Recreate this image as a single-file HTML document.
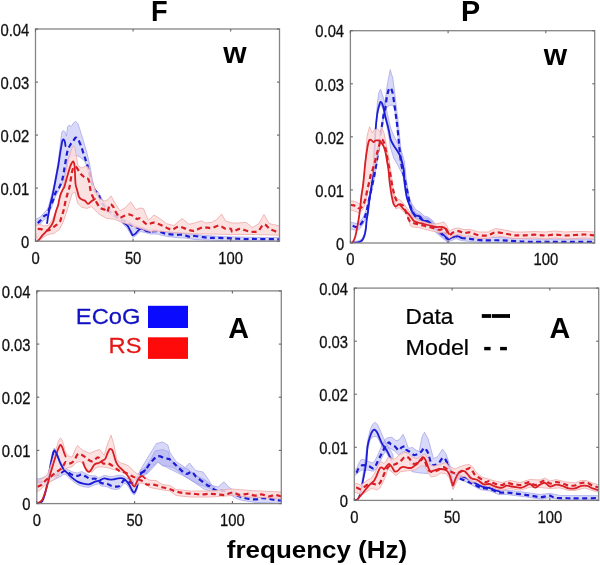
<!DOCTYPE html>
<html><head><meta charset="utf-8"><style>
html,body{margin:0;padding:0;background:#fff;width:600px;height:565px;overflow:hidden}
svg{display:block;will-change:transform}
.t{font-family:"Liberation Sans",sans-serif;font-size:17px;fill:#111;stroke:#111;stroke-width:0.3px}
.b{font-family:"Liberation Sans",sans-serif;font-weight:bold;fill:#000}
.r{font-family:"Liberation Sans",sans-serif;stroke:currentColor;stroke-width:0.25px}
</style></head><body>
<svg width="600" height="565" viewBox="0 0 600 565">
<clipPath id="c0"><rect x="35.5" y="29.0" width="244.0" height="212.2"/></clipPath>
<clipPath id="c1"><rect x="350.4" y="30.7" width="244.3" height="212.3"/></clipPath>
<clipPath id="c2"><rect x="36.8" y="290.9" width="244.5" height="212.7"/></clipPath>
<clipPath id="c3"><rect x="354.3" y="288.1" width="244.4" height="212.3"/></clipPath>
<g clip-path="url(#c0)">
<path d="M35.5,219.5 L40.4,217.0 L43.7,213.0 L46.0,211.0 L48.0,208.0 L50.0,201.0 L52.0,193.0 L54.0,185.0 L56.0,174.0 L58.4,160.0 L60.5,142.0 L61.9,131.8 L63.3,130.5 L65.0,131.8 L66.4,136.2 L67.7,126.5 L69.0,125.2 L71.2,126.5 L73.5,123.0 L75.7,121.2 L77.9,123.8 L80.1,130.0 L83.6,141.5 L87.2,153.9 L89.8,165.0 L92.7,182.0 L95.0,189.0 L99.0,193.0 L102.0,199.0 L106.0,205.0 L112.0,211.0 L120.0,216.0 L128.0,221.0 L135.0,225.0 L142.0,227.0 L146.0,228.5 L150.0,229.5 L157.0,229.5 L165.0,232.0 L175.0,233.0 L185.0,233.5 L195.0,234.5 L205.0,235.5 L220.0,236.5 L240.0,237.0 L260.0,237.5 L280.0,237.5 L280.0,241.0 L260.0,241.0 L240.0,241.0 L220.0,240.5 L205.0,240.0 L195.0,239.5 L185.0,238.0 L175.0,237.5 L165.0,236.0 L157.0,234.0 L150.0,234.0 L145.0,232.5 L140.2,231.5 L136.0,235.5 L132.8,237.5 L127.0,228.0 L120.0,221.0 L112.0,216.0 L105.0,210.0 L101.0,204.0 L98.0,197.0 L94.0,192.0 L91.0,182.0 L89.0,175.0 L87.0,168.0 L85.5,163.0 L84.0,160.0 L82.0,159.0 L80.0,157.0 L78.0,156.0 L76.0,156.0 L73.0,156.0 L70.0,156.0 L67.5,160.0 L65.5,172.0 L64.0,178.0 L62.0,184.0 L59.4,189.0 L57.8,192.5 L55.2,197.0 L53.6,202.0 L51.1,208.5 L49.1,212.5 L47.8,217.0 L45.8,218.5 L43.7,220.0 L40.4,224.0 L35.5,226.5 Z" fill="#a3a3ef" fill-opacity="0.42" stroke="#9898e6" stroke-opacity="0.8" stroke-width="0.8"/>
<path d="M47.1,223.2 C47.3,222.1 47.6,219.2 48.1,216.4 C48.6,213.6 49.2,209.7 49.9,206.2 C50.6,202.7 51.7,199.1 52.5,195.6 C53.3,192.1 53.9,188.4 54.6,185.0 C55.3,181.6 55.9,178.3 56.5,175.0 C57.1,171.7 57.7,169.1 58.4,165.0 C59.1,160.9 59.9,154.5 60.6,150.4 C61.3,146.3 61.9,142.5 62.4,140.7 C62.9,138.9 63.3,139.3 63.7,139.5 C64.1,139.7 64.6,140.9 64.9,142.0 C65.2,143.1 65.4,145.3 65.5,146.0" fill="none" stroke="#1c1cd6" stroke-width="1.8" stroke-linejoin="round" stroke-linecap="round"/>
<path d="M124.0,223.0 C124.6,223.4 126.4,224.4 127.5,225.7 C128.6,227.0 129.6,229.4 130.5,231.0 C131.4,232.6 131.9,234.8 132.8,235.2 C133.7,235.5 134.8,234.2 136.0,233.1 C137.2,232.0 138.7,229.3 140.2,228.8 C141.7,228.3 143.4,229.4 145.0,229.9 C146.6,230.4 149.2,231.7 150.0,232.0" fill="none" stroke="#1c1cd6" stroke-width="1.8" stroke-linejoin="round" stroke-linecap="round"/>
<path d="M37.7,223.2 C38.2,222.8 39.4,221.6 40.4,220.5 C41.4,219.4 42.8,217.3 43.7,216.4 C44.6,215.5 45.1,215.6 45.8,215.1 C46.5,214.6 47.2,214.7 47.8,213.7 C48.3,212.7 48.5,210.4 49.1,209.0 C49.7,207.6 50.4,206.7 51.1,205.0 C51.9,203.3 52.9,200.7 53.6,198.8 C54.3,196.9 54.6,195.1 55.2,193.5 C55.9,191.9 56.8,190.6 57.5,189.5 C58.2,188.4 58.7,188.6 59.5,187.0 C60.3,185.4 61.5,182.5 62.2,180.0 C62.9,177.5 63.2,175.0 63.8,172.0 C64.3,169.0 64.9,165.5 65.5,162.0 C66.1,158.5 66.7,153.9 67.5,151.0 C68.3,148.1 69.6,146.1 70.5,144.5 C71.4,142.9 72.1,142.7 73.0,141.5 C73.9,140.3 74.8,137.9 75.7,137.6 C76.6,137.3 77.4,138.4 78.3,139.8 C79.2,141.2 80.1,143.7 81.0,146.0 C81.9,148.3 82.9,151.7 83.6,153.9 C84.3,156.1 84.8,157.4 85.4,159.2 C86.0,161.0 86.6,162.5 87.2,164.6 C87.8,166.7 88.4,169.4 89.0,172.0 C89.6,174.6 90.3,177.6 91.0,180.0 C91.7,182.4 92.2,184.7 93.0,186.5 C93.8,188.3 94.5,189.6 95.5,191.0 C96.5,192.4 97.9,193.3 98.8,195.0 C99.7,196.7 100.0,199.0 101.0,201.0 C102.0,203.0 103.2,204.9 105.0,207.0 C106.8,209.1 109.5,211.5 112.0,213.5 C114.5,215.5 117.3,217.4 120.0,219.0 C122.7,220.6 125.5,221.7 128.0,223.0 C130.5,224.3 132.4,225.9 135.0,227.0 C137.6,228.1 141.3,228.9 143.5,229.6 C145.7,230.3 145.9,231.0 148.2,231.3 C150.5,231.6 154.6,230.9 157.5,231.3 C160.4,231.7 162.8,233.1 165.7,233.7 C168.6,234.3 172.1,234.6 175.0,234.8 C177.9,235.0 180.9,234.5 183.2,234.8 C185.5,235.1 187.1,236.4 189.0,236.6 C190.9,236.8 192.5,235.9 194.8,236.0 C197.1,236.1 200.5,236.9 203.0,237.2 C205.5,237.5 207.5,237.7 210.0,237.8 C212.5,237.9 214.4,237.7 217.8,237.8 C221.2,237.9 226.4,238.2 230.7,238.4 C235.0,238.6 239.2,238.9 243.5,239.0 C247.8,239.1 250.3,238.9 256.3,239.0 C262.3,239.1 275.6,239.2 279.5,239.3" fill="none" stroke="#1c1cd6" stroke-width="2.2" stroke-dasharray="5 3.4"/>
<path d="M35.5,225.0 L40.0,224.5 L44.0,226.0 L48.0,225.5 L51.0,222.0 L54.0,216.0 L57.0,208.0 L60.0,198.0 L62.0,191.0 L64.0,182.0 L66.0,172.0 L68.0,162.0 L70.0,154.0 L72.0,148.0 L73.7,145.6 L75.0,148.0 L76.5,157.0 L78.0,166.0 L82.0,168.0 L85.0,166.0 L88.0,167.0 L90.0,172.0 L92.0,180.0 L94.0,186.0 L96.0,192.0 L99.0,198.0 L104.0,201.2 L108.0,199.6 L111.0,195.9 L115.8,204.4 L120.0,210.8 L125.4,207.6 L130.7,201.8 L136.0,209.7 L140.0,208.0 L143.5,208.6 L148.2,220.3 L154.0,215.0 L159.8,218.5 L166.8,223.8 L173.8,225.5 L182.0,218.5 L189.0,224.3 L193.7,223.2 L201.8,220.8 L205.0,223.0 L211.4,222.4 L216.5,219.8 L221.7,214.0 L225.5,221.0 L232.0,223.0 L238.4,223.0 L246.1,222.4 L252.5,227.5 L258.9,223.6 L264.0,214.4 L269.2,223.6 L280.0,226.0 L280.0,235.2 L256.3,234.5 L230.7,234.5 L205.0,233.9 L192.5,233.7 L175.0,232.5 L163.3,231.3 L149.3,231.3 L141.3,228.8 L134.9,226.7 L129.6,224.6 L122.2,222.5 L114.7,219.3 L106.2,218.2 L98.8,214.0 L91.4,206.5 L87.0,208.4 L81.7,207.3 L77.5,203.0 L75.0,192.0 L72.2,193.5 L69.0,204.1 L65.8,214.7 L62.6,223.2 L59.4,229.6 L57.0,231.0 L54.0,233.5 L50.0,234.0 L46.0,235.5 L43.1,237.5 L40.4,240.0 L37.7,241.0 L35.5,233.0 Z" fill="#fcdcdc" fill-opacity="0.85" stroke="#eea8a8" stroke-width="0.8"/>
<path d="M37.7,241.3 C38.2,240.8 39.5,239.1 40.4,238.0 C41.3,236.9 42.2,235.6 43.1,234.6 C44.0,233.6 44.9,232.8 45.8,231.9 C46.7,231.0 47.5,230.2 48.4,229.2 C49.3,228.2 50.3,227.0 51.1,225.8 C51.9,224.6 52.6,223.2 53.2,221.8 C53.8,220.4 54.0,219.0 54.5,217.1 C55.0,215.2 55.6,212.5 56.2,210.5 C56.8,208.5 57.8,206.6 58.2,205.0 C58.7,203.4 58.5,202.7 58.9,201.0 C59.3,199.3 59.9,196.5 60.5,194.6 C61.1,192.7 62.0,191.1 62.6,189.8 C63.2,188.5 63.7,188.8 64.4,186.7 C65.1,184.6 66.3,179.7 67.0,177.2 C67.7,174.7 68.1,173.5 68.6,171.8 C69.1,170.1 69.5,168.4 70.0,167.0 C70.5,165.6 71.0,164.4 71.5,163.5 C72.0,162.6 72.8,161.1 73.3,161.5 C73.8,161.9 74.2,162.3 74.6,166.0 C75.0,169.7 75.1,179.5 75.5,183.5 C75.9,187.5 76.5,187.6 77.1,189.9 C77.7,192.2 78.2,195.6 79.2,197.3 C80.2,199.0 81.8,199.3 82.8,199.9 C83.8,200.5 84.1,200.0 85.0,200.7 C85.9,201.4 87.1,203.8 88.2,203.9 C89.3,204.0 90.3,202.0 91.4,201.2 C92.5,200.4 94.4,199.4 95.0,199.0" fill="none" stroke="#da1e26" stroke-width="1.8" stroke-linejoin="round" stroke-linecap="round"/>
<path d="M37.7,228.9 C38.3,228.9 40.1,229.0 41.1,229.2 C42.1,229.4 42.8,230.0 43.7,230.2 C44.6,230.4 45.5,230.6 46.4,230.6 C47.3,230.6 48.1,230.6 49.1,230.2 C50.1,229.8 51.5,228.6 52.5,227.9 C53.5,227.2 54.3,226.5 55.2,225.8 C56.1,225.1 57.1,224.5 57.9,223.8 C58.7,223.1 59.3,222.8 59.9,221.8 C60.5,220.8 60.8,219.2 61.2,217.8 C61.7,216.5 62.2,215.2 62.6,213.7 C63.0,212.2 63.4,211.3 63.9,209.0 C64.4,206.7 65.1,202.7 65.8,199.9 C66.5,197.1 67.3,194.5 67.9,192.4 C68.5,190.3 69.1,189.0 69.5,187.1 C69.9,185.2 70.1,183.5 70.5,181.0 C70.9,178.5 71.5,174.2 72.0,172.0 C72.5,169.8 72.8,168.9 73.3,168.0 C73.8,167.1 74.4,166.5 75.0,166.5 C75.6,166.5 76.3,167.2 77.0,168.0 C77.7,168.8 78.4,170.5 79.0,171.5 C79.6,172.5 80.0,173.2 80.7,173.9 C81.4,174.7 82.1,175.2 83.0,176.0 C83.9,176.8 85.0,177.8 86.0,178.5 C87.0,179.2 87.9,177.8 88.7,180.0 C89.5,182.2 90.0,188.7 90.8,191.7 C91.6,194.7 92.7,196.5 93.5,198.0 C94.3,199.5 94.5,199.1 95.6,200.7 C96.7,202.3 98.4,206.1 99.9,207.6 C101.4,209.1 103.4,209.0 104.6,209.7 C105.8,210.4 106.4,212.8 107.3,211.9 C108.2,211.0 109.0,205.3 110.0,204.4 C111.0,203.5 112.4,205.7 113.1,206.5 C113.8,207.3 113.5,207.9 114.2,209.2 C114.9,210.4 116.0,212.6 117.0,214.0 C118.0,215.4 118.8,217.2 120.0,217.5 C121.2,217.8 122.7,216.5 124.0,216.0 C125.3,215.5 126.8,214.7 128.0,214.5 C129.2,214.3 130.0,214.7 131.0,215.0 C132.0,215.3 133.0,215.8 134.0,216.5 C135.0,217.2 136.0,218.7 137.0,219.0 C138.0,219.3 138.3,217.6 140.0,218.5 C141.7,219.4 144.7,223.6 147.0,224.3 C149.3,225.0 151.3,222.3 154.0,222.6 C156.7,222.9 160.4,224.9 163.3,226.1 C166.2,227.3 169.0,229.5 171.5,229.6 C174.0,229.7 176.0,226.8 178.5,226.7 C181.0,226.6 184.2,228.3 186.7,229.0 C189.2,229.7 191.0,231.1 193.7,230.8 C196.4,230.5 200.1,227.8 203.0,227.3 C205.9,226.9 208.7,228.4 211.4,228.1 C214.1,227.8 216.8,225.5 219.1,225.6 C221.4,225.7 223.6,228.3 225.5,228.8 C227.4,229.3 229.5,228.3 230.7,228.8 C231.9,229.3 231.1,232.0 232.6,232.0 C234.1,232.0 237.0,228.9 239.7,228.8 C242.4,228.7 245.6,230.9 248.6,231.3 C251.6,231.7 255.0,232.5 257.6,231.3 C260.2,230.1 261.9,224.6 264.0,224.3 C266.1,224.0 267.9,228.0 270.5,229.4 C273.1,230.8 278.0,232.1 279.5,232.6" fill="none" stroke="#da1e26" stroke-width="2.2" stroke-dasharray="5 3.4"/>
</g>
<rect x="35.5" y="29.0" width="244.0" height="212.2" fill="none" stroke="#858585" stroke-width="1.3"/>
<line x1="35.5" y1="241.2" x2="35.5" y2="238.7" stroke="#666666" stroke-width="1.1"/>
<line x1="35.5" y1="29.0" x2="35.5" y2="31.5" stroke="#666666" stroke-width="1.1"/>
<text transform="translate(35.5,263.5) scale(0.87,1)" text-anchor="middle" class="t">0</text>
<line x1="133.1" y1="241.2" x2="133.1" y2="238.7" stroke="#666666" stroke-width="1.1"/>
<line x1="133.1" y1="29.0" x2="133.1" y2="31.5" stroke="#666666" stroke-width="1.1"/>
<text transform="translate(133.1,263.5) scale(0.87,1)" text-anchor="middle" class="t">50</text>
<line x1="230.7" y1="241.2" x2="230.7" y2="238.7" stroke="#666666" stroke-width="1.1"/>
<line x1="230.7" y1="29.0" x2="230.7" y2="31.5" stroke="#666666" stroke-width="1.1"/>
<text transform="translate(230.7,263.5) scale(0.87,1)" text-anchor="middle" class="t">100</text>
<line x1="35.5" y1="241.2" x2="38.0" y2="241.2" stroke="#666666" stroke-width="1.1"/>
<line x1="279.5" y1="241.2" x2="277.0" y2="241.2" stroke="#666666" stroke-width="1.1"/>
<text transform="translate(29.2,247.9) scale(0.87,1)" text-anchor="end" class="t">0</text>
<line x1="35.5" y1="188.1" x2="38.0" y2="188.1" stroke="#666666" stroke-width="1.1"/>
<line x1="279.5" y1="188.1" x2="277.0" y2="188.1" stroke="#666666" stroke-width="1.1"/>
<text transform="translate(29.2,194.8) scale(0.87,1)" text-anchor="end" class="t">0.01</text>
<line x1="35.5" y1="135.1" x2="38.0" y2="135.1" stroke="#666666" stroke-width="1.1"/>
<line x1="279.5" y1="135.1" x2="277.0" y2="135.1" stroke="#666666" stroke-width="1.1"/>
<text transform="translate(29.2,141.8) scale(0.87,1)" text-anchor="end" class="t">0.02</text>
<line x1="35.5" y1="82.1" x2="38.0" y2="82.1" stroke="#666666" stroke-width="1.1"/>
<line x1="279.5" y1="82.1" x2="277.0" y2="82.1" stroke="#666666" stroke-width="1.1"/>
<text transform="translate(29.2,88.8) scale(0.87,1)" text-anchor="end" class="t">0.03</text>
<line x1="35.5" y1="29.0" x2="38.0" y2="29.0" stroke="#666666" stroke-width="1.1"/>
<line x1="279.5" y1="29.0" x2="277.0" y2="29.0" stroke="#666666" stroke-width="1.1"/>
<text transform="translate(29.2,35.7) scale(0.87,1)" text-anchor="end" class="t">0.04</text>
<g clip-path="url(#c1)">
<path d="M350.4,241.5 L358.0,241.0 L362.0,239.0 L364.6,233.0 L366.0,226.0 L367.0,218.0 L368.0,210.0 L370.0,194.0 L372.0,180.0 L373.5,165.0 L375.0,140.0 L376.5,115.0 L377.4,102.5 L378.8,93.0 L380.6,89.2 L385.0,103.0 L387.0,112.0 L389.0,121.0 L391.0,129.0 L393.5,135.0 L396.0,140.0 L399.0,145.0 L402.0,153.0 L404.5,162.0 L407.0,187.0 L409.0,197.0 L412.0,204.0 L416.0,210.0 L420.0,212.0 L424.0,216.0 L428.0,217.0 L432.0,220.0 L437.0,226.0 L443.0,231.5 L447.8,235.5 L452.0,234.5 L456.0,232.5 L461.0,234.5 L470.0,235.5 L482.0,237.5 L500.0,237.5 L517.0,238.5 L535.0,239.0 L595.0,239.0 L595.0,243.0 L517.0,243.0 L500.0,242.5 L482.0,242.5 L470.0,241.5 L461.0,240.5 L456.0,238.5 L452.0,240.5 L447.8,242.0 L443.8,238.0 L437.2,233.0 L432.0,228.0 L428.0,224.5 L423.2,223.5 L420.0,220.0 L415.3,218.0 L412.0,214.0 L409.5,207.0 L407.0,198.0 L405.0,182.0 L403.8,178.0 L400.8,171.0 L397.7,165.0 L393.7,158.0 L390.6,148.0 L388.6,135.0 L385.5,120.0 L383.0,109.0 L380.6,104.0 L378.5,110.0 L377.1,117.0 L375.5,133.0 L374.5,160.0 L373.2,172.0 L371.9,185.0 L369.9,198.0 L367.9,214.0 L366.6,222.0 L365.9,230.0 L364.6,237.0 L362.0,242.0 L358.0,243.0 L350.4,243.0 Z" fill="#a3a3ef" fill-opacity="0.42" stroke="#9898e6" stroke-opacity="0.8" stroke-width="0.8"/>
<path d="M350.4,222.5 L352.7,222.5 L356.0,223.5 L359.3,222.5 L363.3,217.0 L365.9,210.5 L368.6,198.5 L370.6,189.0 L372.6,180.0 L374.6,170.5 L377.0,156.5 L379.0,141.5 L381.0,128.5 L382.5,118.5 L384.0,108.0 L385.4,100.0 L387.0,86.5 L390.2,69.6 L392.8,78.0 L395.0,95.0 L396.5,108.0 L398.0,120.0 L399.5,135.0 L401.0,150.0 L403.0,165.0 L405.0,175.0 L407.0,184.0 L408.5,193.0 L410.0,201.0 L412.0,207.0 L416.0,213.5 L420.0,214.5 L424.0,218.0 L428.0,218.5 L432.0,221.5 L437.2,226.8 L443.8,232.0 L447.8,235.5 L447.8,242.5 L443.8,239.0 L437.2,233.8 L432.0,228.5 L428.0,225.5 L424.0,225.0 L420.0,221.5 L416.0,220.5 L412.0,214.0 L410.0,208.0 L408.4,200.0 L406.4,190.8 L404.4,181.5 L402.5,173.7 L400.4,161.0 L398.8,145.0 L397.2,129.0 L396.0,119.5 L394.4,108.0 L392.3,105.0 L389.6,105.5 L387.0,107.0 L385.4,111.0 L384.0,116.5 L382.5,125.5 L381.0,135.5 L379.0,148.5 L377.0,163.5 L374.6,177.5 L372.6,186.8 L370.6,196.1 L368.6,205.4 L365.9,217.3 L363.3,223.9 L359.3,229.3 L356.0,230.6 L352.7,229.3 L350.4,229.3 Z" fill="#a3a3ef" fill-opacity="0.42" stroke="#9898e6" stroke-opacity="0.8" stroke-width="0.8"/>
<path d="M352.7,242.7 C353.6,242.6 356.4,242.7 358.0,242.3 C359.6,241.9 360.9,241.6 362.0,240.4 C363.1,239.2 364.0,237.0 364.6,235.0 C365.2,233.0 365.6,230.8 365.9,228.4 C366.2,226.0 366.3,223.1 366.6,220.4 C366.9,217.8 367.3,216.5 367.9,212.5 C368.4,208.5 369.2,201.4 369.9,196.5 C370.6,191.6 371.3,187.7 371.9,183.3 C372.4,178.9 372.8,173.9 373.2,170.0 C373.6,166.1 373.6,166.5 374.0,160.0 C374.4,153.5 375.0,138.5 375.5,131.0 C376.0,123.5 376.6,118.9 377.1,115.0 C377.6,111.1 377.9,110.0 378.5,107.8 C379.1,105.6 379.9,102.2 380.6,101.9 C381.4,101.6 382.2,103.5 383.0,106.0 C383.8,108.5 384.6,113.1 385.5,117.0 C386.4,120.9 387.8,125.5 388.6,129.2 C389.5,132.9 389.8,136.7 390.6,139.4 C391.5,142.1 392.5,143.5 393.7,145.5 C394.9,147.5 396.5,149.6 397.7,151.6 C398.9,153.6 399.8,154.6 400.8,157.7 C401.8,160.8 403.2,166.3 403.8,170.0 C404.4,173.7 403.7,175.6 404.2,180.0 C404.7,184.4 405.8,192.5 406.6,196.6 C407.5,200.7 408.4,202.1 409.3,204.5 C410.2,206.9 411.0,209.4 412.0,211.2 C413.0,213.0 414.0,214.3 415.3,215.2 C416.6,216.1 418.6,215.6 419.9,216.5 C421.2,217.4 421.9,219.7 423.2,220.5 C424.5,221.3 426.4,220.4 427.9,221.1 C429.3,221.8 430.3,222.9 431.9,224.4 C433.4,225.9 435.2,228.0 437.2,229.8 C439.2,231.6 442.0,233.6 443.8,235.1 C445.6,236.6 446.5,238.7 447.8,239.1 C449.1,239.5 450.5,238.3 451.8,237.7 C453.1,237.1 454.2,235.7 455.8,235.7 C457.4,235.7 460.2,237.4 461.1,237.7" fill="none" stroke="#1c1cd6" stroke-width="1.8" stroke-linejoin="round" stroke-linecap="round"/>
<path d="M352.7,225.8 C353.2,226.0 354.9,227.1 356.0,227.1 C357.1,227.1 358.1,226.9 359.3,225.8 C360.5,224.7 362.2,222.4 363.3,220.4 C364.4,218.4 365.0,216.9 365.9,213.8 C366.8,210.7 367.8,205.4 368.6,201.9 C369.4,198.4 369.9,195.7 370.6,192.6 C371.3,189.5 371.9,186.4 372.6,183.3 C373.3,180.2 373.9,177.9 374.6,174.0 C375.3,170.1 376.3,164.8 377.0,160.0 C377.7,155.2 378.3,149.7 379.0,145.0 C379.7,140.3 380.4,135.8 381.0,132.0 C381.6,128.2 382.0,125.2 382.5,122.0 C383.0,118.8 383.5,115.4 384.0,113.0 C384.5,110.6 384.9,110.6 385.4,107.8 C385.9,105.0 386.3,99.4 387.0,96.1 C387.7,92.8 388.7,88.8 389.6,88.1 C390.5,87.4 391.5,89.0 392.3,91.8 C393.1,94.5 393.8,100.5 394.4,104.6 C395.0,108.7 395.5,112.8 396.0,116.3 C396.5,119.8 396.7,121.4 397.2,125.6 C397.7,129.8 398.3,136.2 398.8,141.5 C399.3,146.8 399.8,152.7 400.4,157.5 C401.0,162.3 401.8,166.8 402.5,170.2 C403.2,173.6 403.8,175.2 404.4,178.0 C405.0,180.8 405.7,184.2 406.4,187.3 C407.1,190.4 407.8,193.6 408.4,196.5 C409.0,199.4 409.4,202.2 410.0,204.5 C410.6,206.8 411.0,208.4 412.0,210.5 C413.0,212.6 414.7,215.8 416.0,217.0 C417.3,218.2 418.7,217.2 420.0,218.0 C421.3,218.8 422.7,220.8 424.0,221.5 C425.3,222.2 426.7,221.4 428.0,222.0 C429.3,222.6 430.5,223.6 432.0,225.0 C433.5,226.4 435.2,228.5 437.2,230.3 C439.2,232.1 442.0,234.2 443.8,235.6 C445.6,237.0 446.5,238.6 447.8,239.0 C449.1,239.4 450.5,238.7 451.8,238.2 C453.1,237.7 454.2,236.2 455.8,236.2 C457.4,236.2 458.7,237.6 461.1,238.0 C463.5,238.4 466.4,238.4 470.0,238.8 C473.6,239.2 477.5,240.1 482.5,240.3 C487.5,240.6 494.2,240.1 500.0,240.3 C505.8,240.5 511.7,241.0 517.5,241.3 C523.3,241.6 522.1,241.8 535.0,241.9 C547.9,242.0 584.8,241.9 594.7,241.9" fill="none" stroke="#1c1cd6" stroke-width="2.2" stroke-dasharray="5 3.4"/>
<path d="M350.4,201.0 L353.0,201.0 L356.6,202.0 L359.3,204.0 L361.5,201.0 L363.0,183.0 L364.5,170.0 L365.5,160.0 L366.5,145.0 L367.0,136.2 L369.6,126.7 L372.3,133.0 L374.4,129.9 L377.6,128.8 L379.7,132.0 L381.8,127.7 L384.0,133.0 L386.6,146.8 L389.3,160.6 L391.4,175.0 L393.0,188.0 L395.0,196.0 L397.0,198.5 L400.4,200.0 L403.0,203.0 L406.0,207.0 L410.0,212.0 L413.0,217.0 L418.0,220.0 L424.0,222.0 L430.0,223.5 L436.0,224.0 L440.0,223.0 L444.0,222.0 L447.0,226.0 L449.0,231.0 L453.0,229.0 L458.0,228.0 L464.0,229.5 L470.0,229.5 L479.0,232.0 L488.3,232.0 L495.3,228.5 L504.7,230.0 L514.0,232.0 L523.3,232.0 L535.0,231.5 L545.0,232.0 L555.0,231.0 L565.0,232.0 L575.0,231.5 L585.0,231.5 L595.0,232.0 L595.0,239.0 L585.0,238.0 L575.0,238.5 L565.0,239.0 L555.0,238.0 L545.0,239.0 L535.0,238.0 L523.3,238.5 L514.0,238.5 L504.7,237.0 L495.3,236.0 L488.3,238.5 L479.0,238.5 L470.0,236.0 L463.7,236.5 L458.4,234.5 L453.1,236.0 L449.1,238.5 L445.2,232.0 L439.8,233.0 L434.5,231.5 L429.2,230.5 L423.9,229.0 L418.6,227.5 L413.3,227.0 L410.6,226.0 L407.0,215.5 L403.0,211.0 L399.0,207.5 L395.8,209.0 L393.8,198.0 L391.8,189.0 L389.8,176.0 L387.7,165.0 L386.1,156.0 L384.0,147.0 L381.8,144.0 L380.3,145.0 L377.6,154.0 L375.5,163.0 L372.8,172.0 L371.2,180.0 L369.2,186.0 L367.3,194.0 L365.3,204.0 L362.6,210.0 L359.3,213.0 L356.6,212.0 L353.0,210.5 L350.4,210.0 Z" fill="#fcdcdc" fill-opacity="0.85" stroke="#eea8a8" stroke-width="0.8"/>
<path d="M352.7,242.7 C353.1,241.6 354.4,239.7 355.3,236.4 C356.2,233.1 357.2,227.5 358.0,223.1 C358.8,218.7 359.4,214.2 360.0,209.8 C360.6,205.4 360.8,200.9 361.3,196.5 C361.9,192.1 362.6,189.1 363.3,183.3 C364.0,177.5 364.7,167.8 365.4,161.7 C366.1,155.6 366.9,150.3 367.5,146.8 C368.1,143.3 368.5,141.6 369.1,140.5 C369.7,139.4 370.5,139.7 371.2,140.0 C371.9,140.3 372.7,142.0 373.4,142.1 C374.1,142.2 374.8,140.8 375.5,140.5 C376.2,140.2 376.9,140.4 377.6,140.5 C378.4,140.6 379.1,140.2 380.0,141.0 C380.9,141.8 382.1,143.2 383.0,145.0 C383.9,146.8 384.8,149.2 385.5,152.0 C386.2,154.8 386.7,159.0 387.2,162.0 C387.7,165.0 388.1,166.4 388.5,170.0 C388.9,173.6 389.2,178.9 389.8,183.3 C390.4,187.7 391.1,193.0 391.8,196.5 C392.5,200.0 393.1,202.8 393.8,204.5 C394.5,206.2 394.9,206.5 395.8,206.5 C396.7,206.5 397.9,204.2 399.1,204.5 C400.3,204.8 401.8,207.2 403.1,208.5 C404.4,209.8 405.9,211.2 407.1,212.5 C408.4,213.8 409.5,215.1 410.6,216.5 C411.8,217.9 412.8,220.0 414.0,221.0 C415.2,222.0 416.3,222.0 418.0,222.5 C419.7,223.0 422.0,223.5 424.0,224.0 C426.0,224.5 428.0,225.0 430.0,225.5 C432.0,226.0 434.0,226.8 436.0,227.0 C438.0,227.2 440.3,226.7 442.0,227.0 C443.7,227.3 444.8,227.8 446.0,229.0 C447.2,230.2 448.5,233.2 449.0,234.0" fill="none" stroke="#da1e26" stroke-width="1.8" stroke-linejoin="round" stroke-linecap="round"/>
<path d="M350.4,205.0 C350.8,205.0 351.7,204.9 352.7,205.2 C353.7,205.4 355.5,205.9 356.6,206.5 C357.7,207.1 358.3,208.6 359.3,208.5 C360.3,208.4 361.6,207.4 362.6,205.8 C363.6,204.2 364.5,201.8 365.3,199.2 C366.1,196.5 366.7,192.8 367.3,189.9 C367.9,187.0 368.6,184.5 369.2,182.0 C369.8,179.5 370.1,177.2 370.7,175.0 C371.3,172.8 372.0,171.7 372.8,169.1 C373.6,166.5 374.7,162.6 375.5,159.6 C376.3,156.6 376.8,154.1 377.6,151.1 C378.4,148.1 379.6,143.4 380.3,141.5 C381.0,139.6 381.2,139.2 381.8,139.4 C382.4,139.6 383.3,140.7 384.0,142.6 C384.7,144.5 385.5,148.1 386.1,151.1 C386.7,154.1 387.1,157.2 387.7,160.6 C388.3,164.0 389.1,167.5 389.8,171.3 C390.5,175.1 391.1,179.8 391.8,183.3 C392.5,186.9 393.0,189.7 393.8,192.6 C394.6,195.5 395.4,198.5 396.5,200.5 C397.6,202.5 399.3,203.6 400.4,204.5 C401.5,205.4 402.3,204.3 403.3,205.9 C404.3,207.5 405.6,211.4 406.6,213.8 C407.6,216.2 408.2,218.9 409.3,220.5 C410.4,222.1 411.8,222.4 413.3,223.1 C414.9,223.8 416.8,223.9 418.6,224.4 C420.4,224.9 422.1,225.4 423.9,225.8 C425.7,226.2 427.4,226.7 429.2,227.1 C431.0,227.5 432.7,227.9 434.5,228.4 C436.3,228.9 438.0,229.8 439.8,229.8 C441.6,229.8 443.6,227.5 445.2,228.4 C446.8,229.3 447.8,234.4 449.1,235.1 C450.4,235.8 451.6,233.1 453.1,232.4 C454.7,231.7 456.6,231.0 458.4,231.1 C460.2,231.2 461.8,232.9 463.7,233.1 C465.6,233.3 467.4,232.0 470.0,232.4 C472.6,232.8 475.9,234.8 479.0,235.3 C482.1,235.8 485.6,235.8 488.3,235.3 C491.0,234.8 492.6,232.6 495.3,232.3 C498.0,232.0 501.6,233.0 504.7,233.5 C507.8,234.0 510.9,235.0 514.0,235.3 C517.1,235.6 519.8,235.4 523.3,235.3 C526.8,235.2 531.4,234.7 535.0,234.7 C538.6,234.7 541.7,235.5 545.0,235.5 C548.3,235.5 551.7,234.5 555.0,234.5 C558.3,234.5 561.7,235.4 565.0,235.5 C568.3,235.6 571.7,235.2 575.0,235.0 C578.3,234.8 581.7,234.4 585.0,234.5 C588.3,234.6 593.1,235.3 594.7,235.5" fill="none" stroke="#da1e26" stroke-width="2.2" stroke-dasharray="5 3.4"/>
</g>
<rect x="350.4" y="30.7" width="244.3" height="212.3" fill="none" stroke="#858585" stroke-width="1.3"/>
<line x1="350.4" y1="243.0" x2="350.4" y2="240.5" stroke="#666666" stroke-width="1.1"/>
<line x1="350.4" y1="30.7" x2="350.4" y2="33.2" stroke="#666666" stroke-width="1.1"/>
<text transform="translate(350.4,265.3) scale(0.87,1)" text-anchor="middle" class="t">0</text>
<line x1="448.1" y1="243.0" x2="448.1" y2="240.5" stroke="#666666" stroke-width="1.1"/>
<line x1="448.1" y1="30.7" x2="448.1" y2="33.2" stroke="#666666" stroke-width="1.1"/>
<text transform="translate(448.1,265.3) scale(0.87,1)" text-anchor="middle" class="t">50</text>
<line x1="545.8" y1="243.0" x2="545.8" y2="240.5" stroke="#666666" stroke-width="1.1"/>
<line x1="545.8" y1="30.7" x2="545.8" y2="33.2" stroke="#666666" stroke-width="1.1"/>
<text transform="translate(545.8,265.3) scale(0.87,1)" text-anchor="middle" class="t">100</text>
<line x1="350.4" y1="243.0" x2="352.9" y2="243.0" stroke="#666666" stroke-width="1.1"/>
<line x1="594.7" y1="243.0" x2="592.2" y2="243.0" stroke="#666666" stroke-width="1.1"/>
<text transform="translate(344.1,249.7) scale(0.87,1)" text-anchor="end" class="t">0</text>
<line x1="350.4" y1="189.9" x2="352.9" y2="189.9" stroke="#666666" stroke-width="1.1"/>
<line x1="594.7" y1="189.9" x2="592.2" y2="189.9" stroke="#666666" stroke-width="1.1"/>
<text transform="translate(344.1,196.6) scale(0.87,1)" text-anchor="end" class="t">0.01</text>
<line x1="350.4" y1="136.8" x2="352.9" y2="136.8" stroke="#666666" stroke-width="1.1"/>
<line x1="594.7" y1="136.8" x2="592.2" y2="136.8" stroke="#666666" stroke-width="1.1"/>
<text transform="translate(344.1,143.5) scale(0.87,1)" text-anchor="end" class="t">0.02</text>
<line x1="350.4" y1="83.8" x2="352.9" y2="83.8" stroke="#666666" stroke-width="1.1"/>
<line x1="594.7" y1="83.8" x2="592.2" y2="83.8" stroke="#666666" stroke-width="1.1"/>
<text transform="translate(344.1,90.5) scale(0.87,1)" text-anchor="end" class="t">0.03</text>
<line x1="350.4" y1="30.7" x2="352.9" y2="30.7" stroke="#666666" stroke-width="1.1"/>
<line x1="594.7" y1="30.7" x2="592.2" y2="30.7" stroke="#666666" stroke-width="1.1"/>
<text transform="translate(344.1,37.4) scale(0.87,1)" text-anchor="end" class="t">0.04</text>
<g clip-path="url(#c2)">
<path d="M37.0,478.8 L38.5,478.7 L40.0,478.4 L41.5,478.2 L43.0,477.7 L44.5,476.9 L46.0,476.1 L47.5,475.4 L49.0,474.7 L50.5,473.9 L52.0,473.3 L53.5,472.8 L55.0,472.2 L56.5,471.6 L58.0,470.8 L59.5,470.1 L61.0,469.4 L62.5,464.3 L64.0,466.6 L65.5,468.1 L67.0,469.1 L68.5,469.9 L70.0,470.6 L71.5,471.4 L73.0,472.1 L74.5,472.4 L76.0,472.7 L77.5,472.9 L79.0,472.4 L80.5,471.9 L82.0,471.6 L83.5,472.4 L85.0,473.2 L86.5,473.9 L88.0,474.7 L89.5,475.4 L91.0,475.8 L92.5,475.8 L94.0,475.8 L95.5,475.8 L97.0,476.8 L98.5,477.9 L100.0,477.4 L101.5,476.7 L103.0,475.9 L104.5,475.4 L106.0,475.7 L107.5,476.1 L109.0,476.4 L110.5,476.4 L112.0,476.4 L113.5,476.4 L115.0,476.0 L116.5,475.7 L118.0,475.3 L119.5,475.3 L121.0,475.3 L122.5,475.3 L124.0,476.2 L125.5,477.3 L127.0,478.2 L128.5,478.7 L130.0,479.2 L131.5,479.7 L133.0,479.5 L134.5,478.0 L136.0,476.5 L137.5,474.7 L139.0,472.7 L140.5,470.6 L142.0,469.4 L143.5,468.4 L145.0,467.2 L145.0,473.4 L143.5,474.5 L142.0,475.8 L140.5,478.2 L139.0,482.7 L137.5,487.8 L136.0,492.3 L134.5,494.9 L133.0,494.3 L131.5,492.2 L130.0,489.2 L128.5,486.9 L127.0,484.9 L125.5,483.7 L124.0,483.2 L122.5,485.2 L121.0,487.1 L119.5,488.8 L118.0,489.1 L116.5,489.4 L115.0,489.5 L113.5,489.2 L112.0,488.9 L110.5,488.4 L109.0,487.7 L107.5,486.9 L106.0,486.6 L104.5,486.4 L103.0,486.2 L101.5,486.0 L100.0,485.0 L98.5,483.9 L97.0,484.2 L95.5,484.6 L94.0,485.1 L92.5,485.8 L91.0,486.4 L89.5,487.1 L88.0,487.3 L86.5,487.1 L85.0,486.9 L83.5,486.7 L82.0,486.3 L80.5,485.7 L79.0,485.2 L77.5,484.6 L76.0,483.5 L74.5,482.4 L73.0,481.3 L71.5,480.1 L70.0,478.6 L68.5,477.1 L67.0,475.6 L65.5,474.4 L64.0,474.4 L62.5,475.1 L61.0,476.4 L59.5,477.1 L58.0,477.8 L56.5,478.6 L55.0,479.2 L53.5,479.8 L52.0,480.3 L50.5,480.9 L49.0,481.7 L47.5,482.4 L46.0,483.1 L44.5,483.9 L43.0,484.7 L41.5,485.2 L40.0,485.4 L38.5,485.7 L37.0,485.8 Z" fill="#a3a3ef" fill-opacity="0.42" stroke="#9898e6" stroke-opacity="0.8" stroke-width="0.8"/>
<path d="M48.4,474.9 L50.6,462.1 L52.7,452.2 L54.3,448.0 L56.5,451.0 L59.8,459.3 L63.3,466.4 L63.3,470.9 L59.8,463.8 L56.5,455.5 L54.3,452.5 L52.7,456.7 L50.6,466.6 L48.4,479.4 Z" fill="#a3a3ef" fill-opacity="0.42" stroke="#9898e6" stroke-opacity="0.8" stroke-width="0.8"/>
<path d="M140.0,470.5 L149.0,455.5 L156.5,443.5 L162.5,442.0 L167.8,445.0 L170.0,452.5 L176.0,461.5 L185.0,467.5 L189.5,463.0 L195.5,470.5 L203.0,472.0 L207.5,478.0 L212.0,485.5 L218.0,487.0 L224.0,481.8 L228.5,487.0 L235.0,491.3 L242.5,494.0 L260.0,495.5 L282.0,496.5 L282.0,503.5 L256.3,502.5 L242.5,500.5 L237.5,499.0 L230.0,494.5 L221.0,493.0 L210.5,491.5 L203.0,488.5 L192.5,481.0 L182.0,475.0 L170.0,469.0 L164.0,466.0 L158.0,462.3 L147.5,473.5 L140.0,478.0 Z" fill="#a3a3ef" fill-opacity="0.42" stroke="#9898e6" stroke-opacity="0.8" stroke-width="0.8"/>
<path d="M146.0,466.0 L151.0,459.0 L155.0,451.0 L162.5,449.5 L168.5,451.8 L170.0,458.5 L176.0,464.5 L182.0,468.0 L187.0,468.5 L193.0,473.0 L199.0,477.0 L205.0,480.0 L210.0,484.0 L215.0,487.5 L215.0,492.0 L210.0,488.5 L205.0,486.5 L199.0,484.5 L193.0,481.5 L187.0,477.5 L180.0,472.5 L173.0,467.5 L167.0,466.0 L162.5,466.0 L158.0,461.5 L151.0,467.5 L146.0,474.0 Z" fill="#a3a3ef" fill-opacity="0.42" stroke="#9898e6" stroke-opacity="0.8" stroke-width="0.8"/>
<path d="M37.8,503.1 C38.5,502.8 40.8,503.3 42.1,501.4 C43.4,499.5 44.6,495.5 45.6,491.5 C46.6,487.5 47.6,481.9 48.4,477.4 C49.2,472.9 49.9,468.4 50.6,464.6 C51.3,460.8 52.1,457.1 52.7,454.7 C53.3,452.3 53.7,450.7 54.3,450.5 C54.9,450.3 55.6,451.6 56.5,453.5 C57.4,455.4 58.7,459.2 59.8,461.8 C60.9,464.4 62.0,467.0 63.3,468.9 C64.6,470.8 66.1,471.7 67.5,473.1 C68.9,474.5 70.1,476.0 71.8,477.4 C73.5,478.8 75.6,480.6 77.5,481.6 C79.4,482.7 81.2,483.2 83.1,483.7 C85.0,484.2 86.8,484.7 88.8,484.4 C90.8,484.1 93.2,482.3 95.0,481.7 C96.8,481.1 98.1,481.2 99.6,480.6 C101.1,480.0 102.7,478.5 104.2,478.3 C105.7,478.1 107.3,479.2 108.8,479.4 C110.3,479.6 111.9,479.6 113.4,479.4 C114.9,479.2 116.5,478.5 118.0,478.3 C119.5,478.1 121.3,477.9 122.6,478.3 C123.9,478.7 124.8,479.5 126.0,480.6 C127.2,481.8 128.5,483.7 129.5,485.2 C130.5,486.7 131.0,488.6 131.8,489.8 C132.6,491.0 133.3,492.8 134.1,492.6 C134.9,492.4 135.6,490.6 136.4,488.6 C137.2,486.6 137.9,483.1 138.7,480.6 C139.5,478.1 139.9,475.4 141.0,473.7 C142.1,472.0 144.3,470.8 145.0,470.2" fill="none" stroke="#1c1cd6" stroke-width="1.8" stroke-linejoin="round" stroke-linecap="round"/>
<path d="M37.8,482.3 C38.5,482.2 40.7,482.1 42.1,481.6 C43.5,481.1 44.9,480.2 46.3,479.5 C47.7,478.8 49.0,478.1 50.6,477.4 C52.2,476.7 54.6,475.9 56.2,475.2 C57.9,474.5 59.1,473.8 60.5,473.1 C61.9,472.4 63.3,471.0 64.7,471.0 C66.1,471.0 67.6,472.4 69.0,473.1 C70.4,473.8 71.8,474.7 73.2,475.2 C74.6,475.7 76.1,476.0 77.5,475.9 C78.9,475.8 80.3,474.4 81.7,474.5 C83.1,474.6 84.5,475.9 85.9,476.6 C87.3,477.3 88.6,478.4 90.2,478.8 C91.8,479.2 93.9,478.1 95.7,478.8 C97.5,479.5 99.4,482.2 101.3,483.0 C103.2,483.8 105.3,483.2 107.0,483.7 C108.7,484.2 109.8,485.3 111.2,485.8 C112.6,486.3 114.1,486.6 115.5,486.6 C116.9,486.6 118.3,486.9 119.7,485.8 C121.1,484.7 122.6,480.9 124.0,480.2 C125.4,479.5 126.8,481.1 128.2,481.6 C129.6,482.1 131.1,483.5 132.5,483.0 C133.9,482.5 135.3,480.4 136.7,478.8 C138.1,477.2 139.5,474.5 140.9,473.1 C142.3,471.7 143.6,472.1 145.2,470.3 C146.8,468.6 148.6,465.0 150.7,462.6 C152.8,460.2 155.5,456.9 157.8,456.2 C160.2,455.5 162.9,457.8 164.8,458.3 C166.7,458.8 167.7,458.3 169.1,459.0 C170.5,459.7 171.7,461.1 173.3,462.6 C175.0,464.1 176.9,466.3 179.0,468.2 C181.1,470.1 184.0,473.3 186.1,473.9 C188.2,474.5 190.2,471.3 191.8,471.8 C193.5,472.3 194.3,475.2 196.0,476.7 C197.7,478.2 199.8,479.6 201.7,481.0 C203.6,482.4 205.9,484.3 207.3,485.2 C208.7,486.1 208.7,485.5 210.0,486.3 C211.3,487.1 213.3,489.3 215.0,490.0 C216.7,490.7 218.3,490.4 220.0,490.6 C221.7,490.8 223.1,490.8 225.0,491.3 C226.9,491.8 229.2,493.1 231.3,493.8 C233.4,494.5 235.6,495.0 237.5,495.6 C239.4,496.2 240.6,497.0 242.5,497.5 C244.4,498.0 246.5,498.5 248.8,498.8 C251.1,499.1 254.0,499.5 256.3,499.4 C258.6,499.3 260.4,498.2 262.5,498.1 C264.6,498.0 266.7,498.5 268.8,498.8 C270.9,499.1 272.9,499.7 275.0,500.0 C277.1,500.3 280.2,500.5 281.3,500.6" fill="none" stroke="#1c1cd6" stroke-width="2.2" stroke-dasharray="5 3.4"/>
<path d="M36.8,482.0 L40.0,479.5 L44.0,477.5 L46.0,476.5 L48.0,473.0 L50.6,466.0 L52.7,460.0 L54.8,453.5 L57.0,446.0 L58.5,441.0 L60.5,437.8 L62.5,441.0 L65.3,452.0 L68.0,455.7 L72.0,457.3 L75.0,450.0 L77.5,445.4 L80.7,448.5 L83.9,450.9 L89.5,453.3 L95.1,450.9 L99.6,449.5 L104.2,455.3 L107.6,443.8 L111.1,435.2 L114.0,444.9 L116.8,459.9 L121.4,463.3 L126.0,464.5 L129.5,466.8 L135.2,472.5 L141.0,476.0 L145.0,477.5 L150.0,480.3 L156.0,480.5 L162.0,484.5 L170.0,485.5 L176.0,489.5 L190.0,491.0 L210.0,491.0 L232.0,489.0 L250.0,490.5 L282.0,492.0 L282.0,498.5 L250.0,497.0 L232.0,495.5 L210.0,497.0 L190.0,497.0 L176.0,495.5 L170.0,491.0 L160.0,489.5 L150.0,487.5 L145.0,484.0 L141.0,482.9 L137.5,484.0 L134.7,487.5 L132.9,480.6 L128.3,476.0 L122.6,472.5 L115.7,470.2 L108.8,467.9 L101.9,466.8 L98.0,467.0 L95.1,468.5 L91.9,472.5 L88.0,470.0 L84.0,465.0 L79.9,461.3 L75.9,462.9 L72.0,466.9 L68.0,467.7 L64.0,469.3 L60.0,472.5 L57.0,477.0 L53.3,480.0 L48.0,483.0 L44.0,486.0 L40.0,490.0 L36.8,492.0 Z" fill="#fcdcdc" fill-opacity="0.85" stroke="#eea8a8" stroke-width="0.8"/>
<path d="M37.8,503.1 C38.5,502.6 40.7,502.4 42.1,500.0 C43.5,497.6 44.9,493.2 46.3,488.7 C47.7,484.2 49.2,478.1 50.6,473.1 C52.0,468.2 53.6,462.8 54.8,459.0 C56.0,455.2 56.7,452.8 57.6,450.5 C58.5,448.2 59.5,445.5 60.3,445.0 C61.1,444.5 61.8,446.4 62.4,447.7 C63.0,448.9 63.5,451.0 64.0,452.5 C64.5,454.0 65.3,455.8 65.6,456.5" fill="none" stroke="#da1e26" stroke-width="1.8" stroke-linejoin="round" stroke-linecap="round"/>
<path d="M83.1,462.1 C83.4,462.9 84.0,465.4 84.7,466.9 C85.4,468.4 86.3,470.1 87.1,470.9 C87.9,471.7 88.8,472.0 89.5,471.7 C90.2,471.4 90.8,470.4 91.5,469.3 C92.2,468.2 93.1,466.0 94.0,465.0 C94.9,464.0 96.0,463.6 96.7,463.3 C97.4,463.0 97.5,463.7 98.4,463.3 C99.3,462.9 100.8,461.8 101.9,461.0 C103.1,460.2 104.3,460.0 105.3,458.7 C106.2,457.4 106.8,454.6 107.6,453.0 C108.4,451.4 109.1,449.5 109.9,449.0 C110.7,448.5 111.5,449.1 112.2,450.1 C112.9,451.2 113.4,453.5 114.0,455.3 C114.6,457.1 115.0,459.3 115.7,461.0 C116.4,462.7 116.9,464.0 118.0,465.5 C119.1,467.0 121.0,468.5 122.5,470.0 C124.0,471.5 125.5,472.7 126.8,474.5 C128.2,476.3 129.6,478.8 130.6,480.6 C131.6,482.4 132.2,484.2 132.9,485.2 C133.6,486.1 134.1,486.7 134.7,486.3 C135.3,485.9 135.7,484.2 136.4,482.9 C137.1,481.6 137.8,479.4 138.7,478.3 C139.6,477.2 141.0,476.0 142.1,476.0 C143.2,476.0 144.5,477.9 145.0,478.3" fill="none" stroke="#da1e26" stroke-width="1.8" stroke-linejoin="round" stroke-linecap="round"/>
<path d="M37.8,487.3 C37.9,487.1 38.0,486.9 38.7,486.4 C39.4,485.9 40.9,485.5 42.1,484.4 C43.3,483.3 44.6,481.2 46.0,480.0 C47.4,478.8 49.4,477.9 50.6,477.0 C51.8,476.1 52.4,475.2 53.3,474.5 C54.2,473.8 54.8,473.4 56.0,472.5 C57.2,471.6 59.5,470.1 60.7,469.0 C61.9,467.9 62.4,467.1 63.2,466.0 C64.0,464.9 64.8,462.5 65.6,462.1 C66.4,461.7 67.1,463.4 68.0,463.5 C68.9,463.6 70.2,463.4 71.2,462.9 C72.2,462.4 73.4,461.7 74.3,460.5 C75.2,459.3 76.0,456.8 76.7,455.7 C77.4,454.6 78.0,453.9 78.7,453.7 C79.4,453.5 80.3,454.2 81.0,454.5 C81.7,454.8 82.3,455.2 83.1,455.7 C83.8,456.2 84.7,456.7 85.5,457.3 C86.3,457.9 86.9,458.8 88.0,459.5 C89.1,460.2 90.9,461.2 91.9,461.3 C93.0,461.4 93.2,460.6 94.3,460.0 C95.4,459.4 97.0,456.9 98.4,457.5 C99.9,458.1 101.5,462.3 103.0,463.3 C104.5,464.3 106.1,462.9 107.6,463.3 C109.1,463.7 110.7,464.6 112.2,465.6 C113.7,466.6 115.5,468.1 116.8,469.1 C118.1,470.1 118.9,470.8 120.3,471.4 C121.7,472.0 123.4,471.9 124.9,472.5 C126.4,473.1 128.0,474.0 129.5,474.8 C131.0,475.6 132.6,476.3 134.1,477.1 C135.6,477.9 137.2,478.6 138.7,479.4 C140.2,480.2 142.0,480.9 143.3,481.7 C144.6,482.5 145.4,483.9 146.6,484.4 C147.8,484.9 149.1,484.4 150.7,484.5 C152.3,484.6 154.4,484.7 156.3,485.2 C158.2,485.7 159.9,486.7 162.0,487.3 C164.1,487.9 166.7,488.1 169.1,488.8 C171.5,489.5 173.8,490.9 176.2,491.6 C178.6,492.3 180.7,492.6 183.3,493.0 C185.9,493.4 188.7,493.5 191.8,493.7 C194.9,493.9 198.7,494.4 201.7,494.4 C204.7,494.4 207.4,493.8 210.0,493.8 C212.6,493.8 215.0,494.2 217.5,494.4 C220.0,494.6 222.5,495.3 225.0,495.0 C227.5,494.7 230.0,492.5 232.5,492.5 C235.0,492.5 237.5,494.8 240.0,495.0 C242.5,495.2 245.0,493.7 247.5,493.8 C250.0,493.9 252.7,495.5 255.0,495.6 C257.3,495.7 259.0,494.3 261.3,494.4 C263.6,494.5 266.5,496.2 268.8,496.3 C271.1,496.4 272.9,495.0 275.0,495.0 C277.1,495.0 280.2,496.1 281.3,496.3" fill="none" stroke="#da1e26" stroke-width="2.2" stroke-dasharray="5 3.4"/>
<path d="M52.7,454.7 C53.0,454.0 53.7,450.7 54.3,450.5 C54.9,450.3 55.6,451.6 56.5,453.5 C57.4,455.4 58.7,459.2 59.8,461.8 C60.9,464.4 62.7,467.7 63.3,468.9" fill="none" stroke="#1c1cd6" stroke-width="1.8" stroke-linejoin="round" stroke-linecap="round"/>
</g>
<rect x="36.8" y="290.9" width="244.5" height="212.7" fill="none" stroke="#858585" stroke-width="1.3"/>
<line x1="36.8" y1="503.6" x2="36.8" y2="501.1" stroke="#666666" stroke-width="1.1"/>
<line x1="36.8" y1="290.9" x2="36.8" y2="293.4" stroke="#666666" stroke-width="1.1"/>
<text transform="translate(36.8,525.9) scale(0.87,1)" text-anchor="middle" class="t">0</text>
<line x1="134.6" y1="503.6" x2="134.6" y2="501.1" stroke="#666666" stroke-width="1.1"/>
<line x1="134.6" y1="290.9" x2="134.6" y2="293.4" stroke="#666666" stroke-width="1.1"/>
<text transform="translate(134.6,525.9) scale(0.87,1)" text-anchor="middle" class="t">50</text>
<line x1="232.4" y1="503.6" x2="232.4" y2="501.1" stroke="#666666" stroke-width="1.1"/>
<line x1="232.4" y1="290.9" x2="232.4" y2="293.4" stroke="#666666" stroke-width="1.1"/>
<text transform="translate(232.4,525.9) scale(0.87,1)" text-anchor="middle" class="t">100</text>
<line x1="36.8" y1="503.6" x2="39.3" y2="503.6" stroke="#666666" stroke-width="1.1"/>
<line x1="281.3" y1="503.6" x2="278.8" y2="503.6" stroke="#666666" stroke-width="1.1"/>
<text transform="translate(30.5,510.3) scale(0.87,1)" text-anchor="end" class="t">0</text>
<line x1="36.8" y1="450.4" x2="39.3" y2="450.4" stroke="#666666" stroke-width="1.1"/>
<line x1="281.3" y1="450.4" x2="278.8" y2="450.4" stroke="#666666" stroke-width="1.1"/>
<text transform="translate(30.5,457.1) scale(0.87,1)" text-anchor="end" class="t">0.01</text>
<line x1="36.8" y1="397.2" x2="39.3" y2="397.2" stroke="#666666" stroke-width="1.1"/>
<line x1="281.3" y1="397.2" x2="278.8" y2="397.2" stroke="#666666" stroke-width="1.1"/>
<text transform="translate(30.5,403.9) scale(0.87,1)" text-anchor="end" class="t">0.02</text>
<line x1="36.8" y1="344.1" x2="39.3" y2="344.1" stroke="#666666" stroke-width="1.1"/>
<line x1="281.3" y1="344.1" x2="278.8" y2="344.1" stroke="#666666" stroke-width="1.1"/>
<text transform="translate(30.5,350.8) scale(0.87,1)" text-anchor="end" class="t">0.03</text>
<line x1="36.8" y1="290.9" x2="39.3" y2="290.9" stroke="#666666" stroke-width="1.1"/>
<line x1="281.3" y1="290.9" x2="278.8" y2="290.9" stroke="#666666" stroke-width="1.1"/>
<text transform="translate(30.5,297.6) scale(0.87,1)" text-anchor="end" class="t">0.04</text>
<g clip-path="url(#c3)">
<path d="M354.3,470.0 L356.8,468.4 L359.0,463.0 L361.4,459.2 L365.0,460.1 L368.6,461.5 L372.4,462.9 L374.4,461.5 L377.4,456.0 L380.3,449.0 L383.2,443.0 L386.1,438.4 L388.0,437.7 L391.9,437.2 L395.8,440.6 L399.0,440.0 L403.1,434.3 L406.5,442.5 L408.4,448.4 L412.3,447.4 L416.2,450.3 L419.2,451.3 L422.1,436.7 L424.5,432.3 L428.0,438.6 L429.2,442.7 L433.5,458.7 L437.7,456.5 L442.5,449.1 L446.2,454.4 L450.5,467.2 L454.7,472.5 L465.0,473.5 L470.0,475.0 L475.0,482.3 L482.0,485.4 L490.0,486.5 L500.0,490.0 L510.0,490.4 L525.0,492.3 L540.0,494.5 L550.0,493.3 L560.0,495.5 L599.0,495.7 L599.0,500.2 L565.0,500.2 L549.4,497.6 L541.3,499.2 L525.3,496.8 L516.0,495.7 L506.7,494.5 L498.5,494.5 L490.3,491.0 L481.0,489.8 L474.0,486.3 L465.0,481.5 L458.8,478.0 L455.5,483.0 L453.1,489.0 L452.0,481.0 L449.0,474.0 L446.2,466.0 L443.0,463.0 L438.8,468.0 L434.6,470.0 L431.4,469.0 L428.0,473.5 L420.0,473.0 L412.0,471.7 L408.0,456.0 L405.0,451.5 L401.6,452.5 L398.7,455.0 L395.0,451.5 L392.0,449.5 L389.1,447.5 L386.1,450.0 L383.2,455.0 L380.3,461.0 L377.0,468.4 L373.3,471.2 L370.6,470.7 L367.8,470.2 L365.0,470.2 L361.4,470.2 L359.0,472.0 L356.8,473.9 L354.3,476.0 Z" fill="#a3a3ef" fill-opacity="0.42" stroke="#9898e6" stroke-opacity="0.8" stroke-width="0.8"/>
<path d="M361.0,488.0 L363.4,472.0 L365.9,454.0 L367.6,441.0 L370.1,430.0 L372.5,424.5 L374.9,422.3 L377.5,424.5 L380.0,430.0 L383.0,437.0 L386.0,443.0 L389.0,448.0 L391.5,452.0 L393.0,455.0 L393.0,462.0 L391.5,462.0 L390.0,459.0 L387.1,454.0 L384.2,450.0 L381.8,446.0 L379.3,441.0 L377.0,436.5 L374.4,436.5 L372.5,437.0 L370.1,440.0 L367.6,450.0 L365.9,461.0 L363.4,478.0 L361.0,494.0 Z" fill="#a3a3ef" fill-opacity="0.42" stroke="#9898e6" stroke-opacity="0.8" stroke-width="0.8"/>
<path d="M355.0,500.2 C355.4,500.1 356.8,500.2 357.5,499.5 C358.2,498.8 358.9,497.8 359.5,496.0 C360.1,494.2 360.8,491.4 361.4,488.6 C362.0,485.8 362.6,482.5 363.2,479.4 C363.8,476.3 364.5,473.3 365.0,470.2 C365.5,467.1 366.0,465.0 366.4,461.0 C366.8,457.0 367.0,450.3 367.6,446.2 C368.2,442.1 369.3,438.9 370.1,436.4 C370.9,433.9 371.8,432.2 372.5,431.1 C373.2,430.0 373.7,429.5 374.4,429.6 C375.1,429.8 376.1,430.7 376.9,432.0 C377.7,433.3 378.5,435.5 379.3,437.4 C380.1,439.3 381.0,441.6 381.8,443.2 C382.6,444.8 383.3,445.8 384.2,447.1 C385.1,448.4 386.1,449.4 387.1,451.0 C388.1,452.6 389.3,455.4 390.0,456.9 C390.7,458.4 391.2,459.3 391.5,459.8" fill="none" stroke="#1c1cd6" stroke-width="1.8" stroke-linejoin="round" stroke-linecap="round"/>
<path d="M446.2,461.5 C446.6,462.4 448.0,465.0 448.9,467.2 C449.8,469.4 450.8,471.6 451.5,474.6 C452.2,477.7 452.4,484.6 453.1,485.5 C453.8,486.4 454.6,481.8 455.5,480.0 C456.4,478.2 457.7,475.6 458.8,475.0 C459.9,474.4 461.0,476.1 462.0,476.5 C463.0,476.9 463.8,477.0 465.0,477.5 C466.2,478.0 467.6,478.8 469.3,479.7 C471.0,480.6 473.1,482.0 475.2,483.2 C477.3,484.4 479.9,485.9 482.2,486.7 C484.5,487.5 487.1,487.2 489.2,487.8 C491.3,488.4 493.2,489.6 495.0,490.2 C496.8,490.8 498.9,491.1 499.7,491.3" fill="none" stroke="#1c1cd6" stroke-width="1.8" stroke-linejoin="round" stroke-linecap="round"/>
<path d="M356.1,472.5 C356.2,472.4 356.4,472.8 356.8,472.1 C357.2,471.4 357.7,469.5 358.6,468.4 C359.5,467.2 361.1,465.7 362.3,465.2 C363.5,464.7 364.8,465.4 366.0,465.6 C367.2,465.8 368.4,466.1 369.6,466.6 C370.8,467.1 372.2,468.7 373.3,468.4 C374.4,468.1 375.2,466.2 376.1,464.7 C377.0,463.2 377.9,461.0 378.8,459.2 C379.7,457.4 380.8,455.2 381.6,453.7 C382.4,452.2 382.6,451.4 383.4,450.0 C384.1,448.6 385.2,446.5 386.1,445.2 C387.1,443.9 388.3,442.4 389.1,442.3 C389.9,442.2 389.9,443.8 390.9,444.5 C391.8,445.2 393.5,445.4 394.8,446.4 C396.1,447.4 397.6,450.1 398.7,450.3 C399.8,450.5 400.6,448.0 401.6,447.4 C402.7,446.8 404.2,446.0 405.0,446.4 C405.8,446.8 405.7,448.9 406.5,449.8 C407.3,450.7 408.8,451.1 410.0,452.0 C411.2,452.9 412.7,454.7 414.0,455.0 C415.3,455.3 416.7,454.6 418.0,454.0 C419.3,453.4 420.6,452.3 421.6,451.3 C422.6,450.3 423.2,448.1 424.0,447.9 C424.8,447.7 425.8,449.4 426.5,450.3 C427.2,451.2 427.4,451.1 428.2,453.4 C429.0,455.7 430.3,462.1 431.4,464.0 C432.5,465.9 433.4,465.2 434.6,465.0 C435.8,464.8 437.4,464.1 438.8,462.9 C440.2,461.7 441.8,458.0 443.0,457.6 C444.2,457.2 445.2,459.2 446.2,460.8 C447.2,462.4 447.9,465.3 448.9,467.2 C449.9,469.1 450.8,470.8 452.0,472.0 C453.2,473.2 454.7,473.4 456.0,474.5 C457.3,475.6 458.4,477.4 460.0,478.5 C461.6,479.6 463.5,479.8 465.8,480.8 C468.1,481.8 471.5,483.1 474.0,484.3 C476.5,485.5 478.3,487.0 481.0,487.8 C483.7,488.6 487.4,488.2 490.3,489.0 C493.2,489.8 495.8,491.9 498.5,492.5 C501.2,493.1 503.8,492.3 506.7,492.5 C509.6,492.7 512.9,493.3 516.0,493.7 C519.1,494.1 522.5,494.4 525.3,494.8 C528.0,495.2 529.8,495.5 532.5,495.9 C535.2,496.3 538.5,497.2 541.3,497.2 C544.1,497.1 547.1,495.5 549.4,495.6 C551.7,495.7 552.4,497.4 555.0,497.8 C557.6,498.2 561.2,498.1 565.0,498.2 C568.8,498.3 571.9,498.4 577.5,498.4 C583.1,498.4 595.2,498.2 598.7,498.2" fill="none" stroke="#1c1cd6" stroke-width="2.2" stroke-dasharray="5 3.4"/>
<path d="M354.3,484.0 L357.0,483.5 L360.4,485.0 L363.2,483.5 L366.9,480.5 L370.6,478.5 L372.0,477.0 L374.2,474.0 L376.5,469.5 L378.4,465.0 L380.2,462.0 L382.1,462.0 L383.9,463.5 L386.2,461.0 L388.0,457.1 L392.0,458.5 L395.0,459.0 L398.7,455.2 L404.6,452.3 L408.4,453.2 L412.3,457.1 L417.2,458.6 L422.1,455.2 L425.0,454.2 L428.0,458.1 L430.0,465.0 L434.0,466.0 L440.0,464.5 L445.8,462.5 L449.0,466.0 L455.0,469.0 L460.0,466.5 L465.0,465.0 L469.3,464.5 L472.8,467.0 L476.0,472.0 L482.0,477.2 L488.0,478.9 L495.0,481.1 L502.0,482.5 L510.0,480.5 L520.0,482.5 L530.0,479.5 L540.0,480.0 L545.0,478.0 L550.0,481.0 L556.0,479.6 L565.0,481.8 L575.0,483.0 L581.0,480.6 L586.3,480.5 L592.5,483.0 L599.0,485.0 L599.0,492.5 L592.5,490.5 L585.0,488.0 L575.0,490.5 L568.8,490.5 L560.0,487.9 L550.0,488.5 L540.0,487.5 L530.0,487.2 L520.7,490.1 L510.0,488.6 L502.0,490.1 L497.3,489.5 L490.0,486.4 L483.3,485.6 L477.5,481.7 L471.7,482.5 L465.0,476.5 L459.6,476.5 L455.5,484.0 L453.1,489.5 L449.0,477.5 L445.8,473.5 L440.9,473.0 L436.0,476.0 L431.1,477.0 L428.0,472.7 L425.0,466.0 L421.1,465.9 L415.3,469.8 L407.5,470.8 L400.7,471.7 L395.8,475.6 L392.0,472.0 L388.0,468.8 L386.0,475.0 L384.0,480.0 L382.0,484.0 L380.0,488.0 L377.0,490.0 L374.2,489.0 L371.0,488.5 L367.0,491.5 L363.2,494.0 L360.4,494.5 L357.0,493.0 L354.3,492.0 Z" fill="#fcdcdc" fill-opacity="0.85" stroke="#eea8a8" stroke-width="0.8"/>
<path d="M356.8,500.1 C357.4,499.4 359.2,497.4 360.4,496.0 C361.6,494.6 362.9,492.9 364.1,491.4 C365.3,489.9 366.6,488.2 367.8,486.8 C369.0,485.4 370.4,484.2 371.5,483.1 C372.6,482.0 373.4,481.6 374.2,480.4 C375.0,479.2 375.8,477.3 376.5,475.8 C377.2,474.3 377.8,472.5 378.4,471.2 C379.0,469.9 379.6,468.5 380.2,467.9 C380.8,467.3 381.5,467.3 382.1,467.5 C382.7,467.7 383.2,469.4 383.9,469.3 C384.6,469.2 385.3,467.5 386.2,466.6 C387.1,465.7 388.1,463.7 389.0,463.8 C389.9,463.9 390.9,465.7 391.9,467.0 C392.9,468.3 393.8,470.9 394.8,471.5 C395.8,472.1 396.7,471.4 397.7,470.8 C398.7,470.2 399.7,468.5 400.7,467.8 C401.7,467.1 402.5,466.9 403.6,466.9 C404.7,466.9 406.2,467.6 407.5,467.8 C408.8,468.0 410.3,468.1 411.4,467.8 C412.5,467.5 413.3,466.5 414.3,465.9 C415.3,465.2 416.2,464.9 417.2,463.9 C418.2,462.9 419.2,461.2 420.1,460.1 C421.0,459.0 421.8,457.3 422.6,457.1 C423.4,456.9 424.3,458.0 425.0,459.1 C425.7,460.2 426.4,462.4 427.0,463.9 C427.6,465.4 427.9,466.8 428.5,468.0 C429.1,469.2 429.3,471.0 430.3,471.4 C431.3,471.8 433.0,470.7 434.6,470.3 C436.2,469.9 438.1,469.0 440.0,469.0 C441.9,469.0 444.6,469.4 446.2,470.3 C447.8,471.2 448.4,472.5 449.4,474.6 C450.4,476.7 451.5,481.3 452.1,483.1 C452.7,484.9 452.5,486.1 453.1,485.2 C453.7,484.3 454.8,479.9 455.8,477.8 C456.8,475.7 458.0,473.6 459.0,472.5 C460.0,471.4 461.0,471.2 462.0,471.0 C463.0,470.8 464.0,470.8 465.0,471.5 C466.0,472.2 467.1,473.8 468.2,475.0 C469.3,476.2 470.1,477.7 471.7,478.5 C473.2,479.3 475.6,479.1 477.5,480.0 C479.4,480.9 481.4,483.5 483.3,484.2 C485.2,484.9 487.6,483.8 489.2,484.0 C490.8,484.2 491.3,485.0 492.7,485.5 C494.1,486.0 495.8,486.8 497.3,487.2 C498.9,487.6 500.4,488.1 502.0,487.8 C503.6,487.6 505.1,485.9 506.7,485.7 C508.2,485.5 509.8,486.2 511.3,486.5 C512.9,486.8 514.4,487.0 516.0,487.2 C517.6,487.4 519.2,487.9 520.7,487.8 C522.2,487.7 523.5,487.0 525.0,486.4 C526.5,485.8 528.3,483.8 530.0,484.0 C531.7,484.2 533.3,487.6 535.0,487.7 C536.7,487.8 538.3,485.4 540.0,484.6 C541.7,483.8 543.3,482.5 545.0,482.8 C546.7,483.1 548.1,486.2 550.0,486.5 C551.9,486.8 554.2,484.7 556.3,484.6 C558.4,484.5 560.4,485.3 562.5,485.9 C564.6,486.5 566.7,488.0 568.8,488.4 C570.9,488.8 572.9,488.8 575.0,488.4 C577.1,488.0 579.2,486.3 581.3,485.9 C583.4,485.5 585.6,485.5 587.5,485.9 C589.4,486.3 590.6,487.7 592.5,488.4 C594.4,489.1 597.7,489.9 598.7,490.2" fill="none" stroke="#da1e26" stroke-width="1.8" stroke-linejoin="round" stroke-linecap="round"/>
<path d="M356.1,487.5 C356.2,487.5 356.1,487.4 356.8,487.7 C357.5,488.0 359.3,489.1 360.4,489.1 C361.5,489.1 362.1,488.4 363.2,487.7 C364.3,487.0 365.7,485.8 366.9,485.0 C368.1,484.2 369.4,483.3 370.6,483.1 C371.8,482.9 373.1,483.7 374.2,484.0 C375.3,484.3 376.1,485.1 377.0,485.0 C377.9,484.9 379.0,484.0 379.8,483.1 C380.6,482.2 381.0,480.6 381.6,479.4 C382.2,478.2 382.8,477.2 383.4,475.8 C384.0,474.4 384.7,472.4 385.3,471.2 C385.9,470.0 386.3,469.3 387.1,468.4 C387.9,467.5 389.0,466.2 389.9,465.6 C390.8,465.0 391.8,464.9 392.6,464.7 C393.4,464.5 393.6,464.8 394.5,464.5 C395.4,464.2 396.7,463.6 397.7,463.0 C398.7,462.4 399.5,462.0 400.7,461.0 C401.9,460.0 403.5,457.8 404.6,457.1 C405.7,456.5 406.6,456.8 407.5,457.1 C408.4,457.4 409.2,458.3 409.9,459.1 C410.5,459.9 410.7,461.2 411.4,462.0 C412.1,462.8 413.3,463.8 414.3,464.0 C415.3,464.2 416.1,463.6 417.2,463.0 C418.3,462.4 420.1,460.9 421.1,460.1 C422.2,459.3 422.7,457.5 423.5,458.1 C424.3,458.8 425.2,462.2 426.0,464.0 C426.8,465.8 427.3,467.8 428.0,469.0 C428.7,470.2 429.1,470.9 430.0,471.4 C430.9,471.9 432.2,472.1 433.5,471.9 C434.8,471.7 436.1,471.1 437.7,470.3 C439.3,469.5 441.4,467.4 443.0,467.2 C444.6,467.0 445.7,468.4 447.3,469.3 C448.9,470.2 451.0,471.8 452.6,472.5 C454.2,473.2 455.4,473.7 456.8,473.5 C458.2,473.3 459.7,472.1 461.1,471.4 C462.5,470.7 464.0,469.7 465.0,469.3 C466.0,468.9 466.1,469.4 467.0,469.2 C467.9,469.0 469.5,467.6 470.5,468.0 C471.5,468.4 472.0,470.3 472.8,471.5 C473.6,472.7 474.2,474.2 475.2,475.2 C476.2,476.2 477.5,476.7 478.7,477.5 C479.9,478.3 481.0,479.0 482.2,479.8 C483.4,480.6 484.5,482.0 485.7,482.2 C486.9,482.4 488.0,480.9 489.2,481.0 C490.4,481.1 491.3,482.2 492.7,482.8 C494.1,483.4 495.8,484.1 497.3,484.5 C498.9,484.9 500.4,485.4 502.0,485.1 C503.6,484.8 505.1,483.0 506.7,482.8 C508.2,482.6 509.8,483.6 511.3,483.9 C512.9,484.2 514.4,484.3 516.0,484.5 C517.6,484.7 519.2,485.3 520.7,485.1 C522.2,484.9 523.8,483.8 525.3,483.3 C526.8,482.8 528.4,481.9 530.0,482.2 C531.6,482.5 533.3,484.9 535.0,485.0 C536.7,485.1 538.3,483.2 540.0,482.5 C541.7,481.8 543.3,480.3 545.0,480.5 C546.7,480.7 548.1,483.2 550.0,483.5 C551.9,483.8 554.2,482.0 556.3,482.0 C558.4,482.0 560.4,482.9 562.5,483.5 C564.6,484.1 566.7,485.2 568.8,485.5 C570.9,485.8 572.9,485.9 575.0,485.5 C577.1,485.1 579.2,483.4 581.3,483.0 C583.4,482.6 585.6,482.6 587.5,483.0 C589.4,483.4 590.6,484.8 592.5,485.5 C594.4,486.2 597.7,487.2 598.7,487.5" fill="none" stroke="#da1e26" stroke-width="2.2" stroke-dasharray="5 3.4"/>
</g>
<rect x="354.3" y="288.1" width="244.4" height="212.3" fill="none" stroke="#858585" stroke-width="1.3"/>
<line x1="354.3" y1="500.4" x2="354.3" y2="497.9" stroke="#666666" stroke-width="1.1"/>
<line x1="354.3" y1="288.1" x2="354.3" y2="290.6" stroke="#666666" stroke-width="1.1"/>
<text transform="translate(354.3,522.7) scale(0.87,1)" text-anchor="middle" class="t">0</text>
<line x1="452.1" y1="500.4" x2="452.1" y2="497.9" stroke="#666666" stroke-width="1.1"/>
<line x1="452.1" y1="288.1" x2="452.1" y2="290.6" stroke="#666666" stroke-width="1.1"/>
<text transform="translate(452.1,522.7) scale(0.87,1)" text-anchor="middle" class="t">50</text>
<line x1="549.8" y1="500.4" x2="549.8" y2="497.9" stroke="#666666" stroke-width="1.1"/>
<line x1="549.8" y1="288.1" x2="549.8" y2="290.6" stroke="#666666" stroke-width="1.1"/>
<text transform="translate(549.8,522.7) scale(0.87,1)" text-anchor="middle" class="t">100</text>
<line x1="354.3" y1="500.4" x2="356.8" y2="500.4" stroke="#666666" stroke-width="1.1"/>
<line x1="598.7" y1="500.4" x2="596.2" y2="500.4" stroke="#666666" stroke-width="1.1"/>
<text transform="translate(348.0,507.1) scale(0.87,1)" text-anchor="end" class="t">0</text>
<line x1="354.3" y1="447.3" x2="356.8" y2="447.3" stroke="#666666" stroke-width="1.1"/>
<line x1="598.7" y1="447.3" x2="596.2" y2="447.3" stroke="#666666" stroke-width="1.1"/>
<text transform="translate(348.0,454.0) scale(0.87,1)" text-anchor="end" class="t">0.01</text>
<line x1="354.3" y1="394.2" x2="356.8" y2="394.2" stroke="#666666" stroke-width="1.1"/>
<line x1="598.7" y1="394.2" x2="596.2" y2="394.2" stroke="#666666" stroke-width="1.1"/>
<text transform="translate(348.0,400.9) scale(0.87,1)" text-anchor="end" class="t">0.02</text>
<line x1="354.3" y1="341.2" x2="356.8" y2="341.2" stroke="#666666" stroke-width="1.1"/>
<line x1="598.7" y1="341.2" x2="596.2" y2="341.2" stroke="#666666" stroke-width="1.1"/>
<text transform="translate(348.0,347.9) scale(0.87,1)" text-anchor="end" class="t">0.03</text>
<line x1="354.3" y1="288.1" x2="356.8" y2="288.1" stroke="#666666" stroke-width="1.1"/>
<line x1="598.7" y1="288.1" x2="596.2" y2="288.1" stroke="#666666" stroke-width="1.1"/>
<text transform="translate(348.0,294.8) scale(0.87,1)" text-anchor="end" class="t">0.04</text>
<text transform="translate(159.2,20.9) scale(0.92,1)" class="b" font-size="29.6" text-anchor="middle">F</text>
<text transform="translate(470.6,21.4) scale(0.99,1)" class="b" font-size="29" text-anchor="middle">P</text>
<text x="235" y="63.3" class="b" font-size="30" text-anchor="middle">w</text>
<text x="555.5" y="64.6" class="b" font-size="30" text-anchor="middle">w</text>
<text x="238.5" y="337.9" class="b" font-size="28.7" text-anchor="middle">A</text>
<text x="559.8" y="337.7" class="b" font-size="28.7" text-anchor="middle">A</text>
<text transform="translate(140.5,324) scale(1.06,1)" class="r" font-size="22.4" fill="#1212c4" style="color:#1212c4" text-anchor="end">ECoG</text>
<text transform="translate(141.6,353.2) scale(1.06,1)" class="r" font-size="22.4" fill="#e41616" style="color:#e41616" text-anchor="end">RS</text>
<rect x="148" y="305.8" width="40" height="22.2" fill="#0a0aff"/>
<rect x="148" y="337.3" width="40" height="21.6" fill="#ff0a0a"/>
<text transform="translate(405.6,323.6) scale(1.015,1)" class="r" font-size="22.3" fill="#000">Data</text>
<text transform="translate(405.6,355) scale(1.045,1)" class="r" font-size="22.3" fill="#000">Model</text>
<line x1="481.8" y1="316" x2="491.2" y2="316" stroke="#000" stroke-width="3.8"/>
<line x1="491.9" y1="316" x2="510" y2="316" stroke="#000" stroke-width="3.8"/>
<line x1="484.2" y1="348.6" x2="490.6" y2="348.6" stroke="#000" stroke-width="3.4"/>
<line x1="500.1" y1="348.6" x2="506.9" y2="348.6" stroke="#000" stroke-width="3.4"/>
<text transform="translate(317,557.5) scale(1.105,1)" class="b" font-size="23.5" text-anchor="middle">frequency (Hz)</text>
</svg>
</body></html>
